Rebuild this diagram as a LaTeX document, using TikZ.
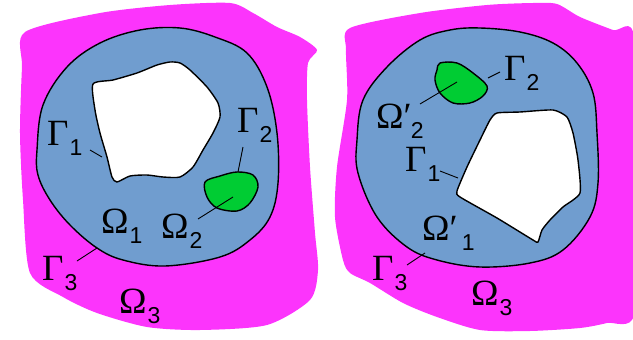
\documentclass[tikz,border=0pt]{standalone}
\usepackage{fontspec}
\setmainfont{Liberation Serif}
\newfontfamily\subf{Liberation Sans}
\definecolor{mag}{RGB}{252,52,252}
\definecolor{ablue}{RGB}{112,157,207}
\definecolor{agreen}{RGB}{0,204,51}
\newcommand\sbs[1]{\kern1pt\raisebox{-10pt}{\subf\fontsize{23}{23}\selectfont #1}}
\tikzset{
  lbl/.style={font=\fontsize{37}{37}\selectfont, inner sep=0pt, anchor=base west},
  outer/.style={fill=mag, draw=none},
  ring/.style={fill=ablue, draw=black, line width=1.4pt},
  hole/.style={fill=white, draw=black, line width=1.4pt},
  blob/.style={fill=agreen, draw=black, line width=1.4pt},
  leader/.style={draw=black, line width=0.9pt}
}
\begin{document}
\begin{tikzpicture}[x=1pt,y=-1pt]
\useasboundingbox (0,0) rectangle (633,340);
% ---------------- left panel ----------------
\path[outer] plot[smooth cycle, tension=0.45] coordinates {
 (25,32) (100,13) (170,5) (230,3) (253,13) (277,27) (300,37) (317,50) (308,63)
 (307,100) (310,167) (315,233) (318,270) (310,300) (267,325) (200,330)
 (147,327) (97,313) (63,297) (30,273) (23,200) (20,133) (22,67)};
\path[ring] plot[smooth cycle, tension=0.6] coordinates {
 (37,150) (43,105) (67,67) (100,43) (140,30) (180,28) (215,37) (247,53)
 (267,87) (277,133) (278,183) (270,217) (250,240) (220,257) (165,266)
 (123,260) (97,248) (70,225) (50,200) (38,175)};
\path[hole] plot[smooth cycle, tension=0.4] coordinates {
 (93,84) (113,80) (137,73) (157,65) (170,62) (180,63) (190,70) (207,87)
 (218,103) (220,117) (213,133) (203,150) (193,167) (180,177) (163,177)
 (147,175) (130,176) (117,182) (112,177) (107,157) (100,133) (95,110)};
\path[blob] plot[smooth cycle, tension=0.55] coordinates {
 (205,182) (220,176) (237,172) (253,175) (258,187) (250,203) (237,211)
 (217,208) (207,197)};
% labels
\node[lbl] (lG1) at (47,145) {Γ\sbs{1}};
\node[lbl] (lG2) at (237,132) {Γ\sbs{2}};
\node[lbl] (lO1) at (101,233) {Ω\sbs{1}};
\node[lbl] (lO2) at (161,238) {Ω\sbs{2}};
\node[lbl] (lG3) at (42,280) {Γ\sbs{3}};
\node[lbl] (lO3) at (119,313) {Ω\sbs{3}};
\coordinate (a1) at (90,150);  \coordinate (b1) at (102,157);
\coordinate (a2) at (243,147); \coordinate (b2) at (238,172);
\coordinate (a3) at (198,219); \coordinate (b3) at (233,197);
\coordinate (a4) at (77,261);  \coordinate (b4) at (97,248);
\draw[leader] (a1) -- (b1);
\draw[leader] (a2) -- (b2);
\draw[leader] (a3) -- (b3);
\draw[leader] (a4) -- (b4);
% ---------------- right panel ----------------
\path[outer] plot[smooth cycle, tension=0.45] coordinates {
 (350,28) (420,13) (487,5) (533,3) (557,4) (580,17) (613,30) (634,37)
 (634,200) (634,315) (607,323) (580,328) (530,331) (480,330) (437,317)
 (403,303) (370,283) (350,273) (343,260) (335,217) (337,167) (347,100) (346,50)};
\path[ring] plot[smooth cycle, tension=0.6] coordinates {
 (480,28) (520,32) (553,43) (577,63) (593,93) (597,133) (598,183) (590,217)
 (563,250) (530,263) (480,267) (437,260) (407,247) (377,217) (358,173)
 (357,140) (363,100) (387,67) (420,40) (450,30)};
\path[hole] plot[smooth cycle, tension=0.35] coordinates {
 (457,191) (467,167) (480,140) (490,120) (497,113) (520,112) (553,110)
 (567,117) (573,133) (578,160) (580,193) (563,207) (550,220) (542,230)
 (538,242) (533,240) (497,218) (460,197)};
\path[blob] plot[smooth cycle, tension=0.55] coordinates {
 (440,63) (457,63) (473,73) (487,86) (483,96) (470,103) (453,103) (440,93)
 (435,80) (437,70)};
% labels
\node[lbl] (rG2) at (504,80) {Γ\sbs{2}};
\node[lbl] (rO2) at (376,128) {Ω′\kern-2pt\sbs{2}};
\node[lbl] (rG1) at (405,171) {Γ\sbs{1}};
\node[lbl] (rO1) at (422,240) {Ω′\kern3pt\sbs{1}};
\node[lbl] (rG3) at (372,280) {Γ\sbs{3}};
\node[lbl] (rO3) at (471,305) {Ω\sbs{3}};
\coordinate (c1) at (488,78);  \coordinate (d1) at (500,72);
\coordinate (c2) at (420,104); \coordinate (d2) at (457,82);
\coordinate (c3) at (440,171); \coordinate (d3) at (458,178);
\coordinate (c4) at (407,265); \coordinate (d4) at (425,253);
\draw[leader] (c1) -- (d1);
\draw[leader] (c2) -- (d2);
\draw[leader] (c3) -- (d3);
\draw[leader] (c4) -- (d4);
\end{tikzpicture}
\end{document}
